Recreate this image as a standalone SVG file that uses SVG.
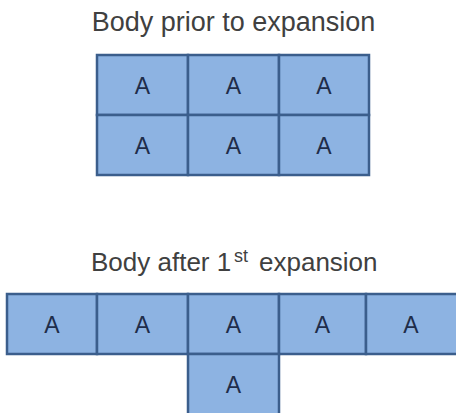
<svg xmlns="http://www.w3.org/2000/svg" width="456" height="413" viewBox="0 0 456 413">
  <style>
    .cell rect { fill: #8DB3E2; stroke: #3B5E8C; stroke-width: 2.5; }
    .cell text { font-family: "Liberation Sans", Arial, sans-serif; font-size: 23px; fill: #1F2D4A; text-anchor: middle; }
    .title { font-family: "Liberation Sans", Arial, sans-serif; fill: #404040; }
  </style>
  <rect width="456" height="413" fill="#ffffff"/>

  <g id="title-top">
    <text class="title" x="233.5" y="31" font-size="27" text-anchor="middle">Body prior to expansion</text>
  </g>

  <g id="top-grid">
    <g id="t1" class="cell"><rect x="97" y="55" width="91" height="60"/><text x="142.5" y="93.5">A</text></g>
    <g id="t2" class="cell"><rect x="188" y="55" width="91" height="60"/><text x="233.5" y="93.5">A</text></g>
    <g id="t3" class="cell"><rect x="279" y="55" width="90" height="60"/><text x="324" y="93.5">A</text></g>
    <g id="t4" class="cell"><rect x="97" y="115" width="91" height="60"/><text x="142.5" y="153.5">A</text></g>
    <g id="t5" class="cell"><rect x="188" y="115" width="91" height="60"/><text x="233.5" y="153.5">A</text></g>
    <g id="t6" class="cell"><rect x="279" y="115" width="90" height="60"/><text x="324" y="153.5">A</text></g>
  </g>

  <g id="title-bottom">
    <text class="title" y="271" font-size="26"><tspan x="91">Body after 1</tspan><tspan x="234" y="262" font-size="18">st</tspan><tspan x="259" y="271">expansion</tspan></text>
  </g>

  <g id="bottom-grid">
    <g id="b1" class="cell"><rect x="7" y="294" width="90" height="60"/><text x="52" y="332.5">A</text></g>
    <g id="b2" class="cell"><rect x="97" y="294" width="91" height="60"/><text x="142.5" y="332.5">A</text></g>
    <g id="b3" class="cell"><rect x="188" y="294" width="91" height="60"/><text x="233.5" y="332.5">A</text></g>
    <g id="b4" class="cell"><rect x="279" y="294" width="87" height="60"/><text x="322.5" y="332.5">A</text></g>
    <g id="b5" class="cell"><rect x="366" y="294" width="92" height="60"/><text x="411" y="332.5">A</text></g>
    <g id="b6" class="cell"><rect x="188" y="354" width="91" height="61"/><text x="233.5" y="392.5">A</text></g>
  </g>

  <g id="connectors"/>
</svg>
